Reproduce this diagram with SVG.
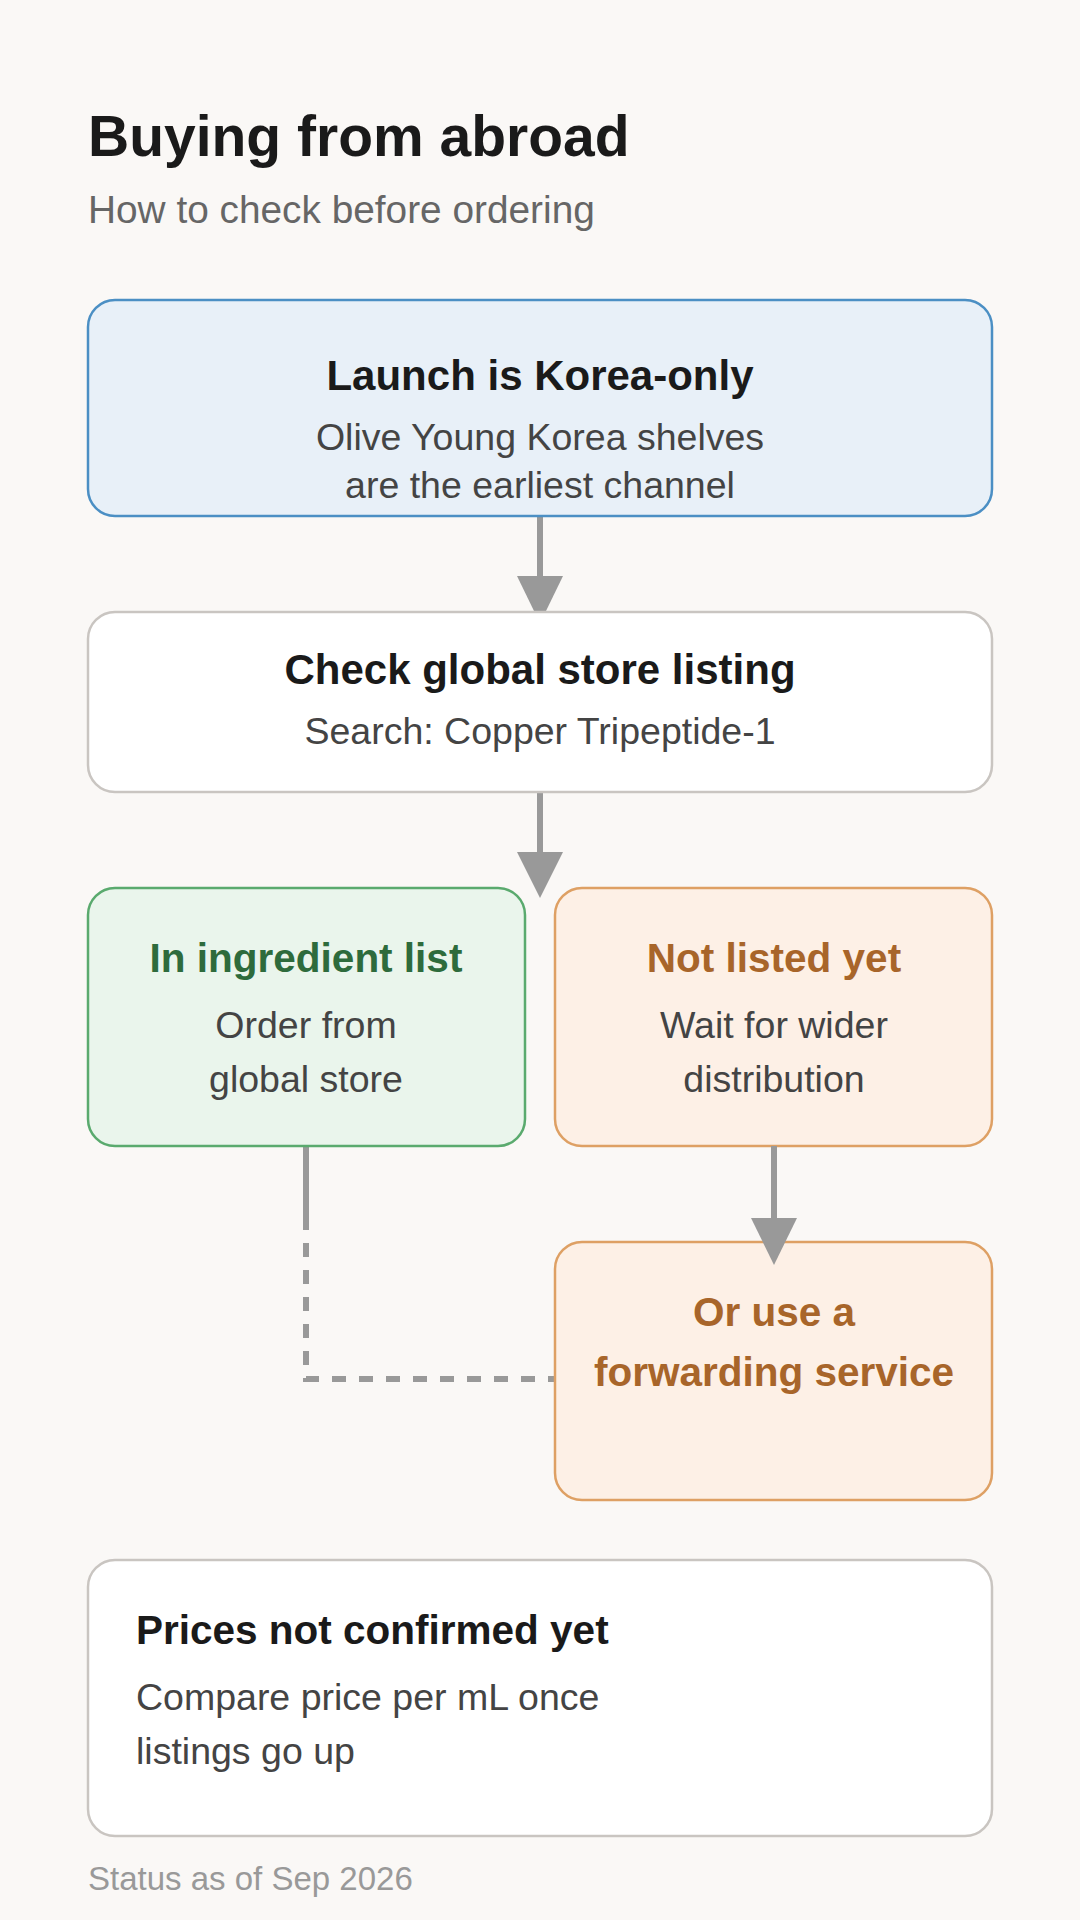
<svg xmlns="http://www.w3.org/2000/svg" width="1080" height="1920" viewBox="0 0 1080 1920">
  <style>
    text { font-family: "Liberation Sans", Arial, sans-serif; }
    .h1 { font-size: 57px; font-weight: bold; fill: #1a1a1a; }
    .sub { font-size: 38.8px; fill: #666666; }
    .t { font-size: 40.5px; font-weight: bold; fill: #1a1a1a; }
    .tw { font-size: 42px; }
    .b { font-size: 37.5px; fill: #444444; }
    .c { text-anchor: middle; }
    .tg { fill: #2e6b3c; }
    .to { fill: #a8652a; }
    .foot { font-size: 33px; fill: #999999; }
    .box { stroke-width: 2.5; }
    .blue { fill: #e8f0f8; stroke: #4b8fc4; }
    .white { fill: #ffffff; stroke: #c9c5c1; }
    .green { fill: #eaf5ec; stroke: #5aaa6e; }
    .orange { fill: #fdf0e6; stroke: #dea064; }
    .ln { stroke: #999999; stroke-width: 6; fill: none; }
    .dash { stroke-dasharray: 14 13; }
    .ah { fill: #999999; }
  </style>
  <rect x="0" y="0" width="1080" height="1920" fill="#faf8f6"/>

  <g id="header">
    <text class="h1" x="88" y="156">Buying from abroad</text>
    <text class="sub" x="88" y="223">How to check before ordering</text>
  </g>

  <g id="connectors">
    <line class="ln" x1="540" y1="516" x2="540" y2="580"/>
    <polygon class="ah" points="517,576 563,576 545.5,612 534.5,612"/>
    <line class="ln" x1="540" y1="792" x2="540" y2="856"/>
    <polygon class="ah" points="517,852 563,852 540,898"/>
    <line class="ln" x1="306" y1="1146" x2="306" y2="1230"/>
    <path class="ln dash" d="M306 1243 V1379 H555"/>
  </g>

  <g id="node-launch">
    <rect class="box blue" x="88" y="300" width="904" height="216" rx="27"/>
    <text class="t tw c" x="540" y="390">Launch is Korea-only</text>
    <text class="b c" x="540" y="450">Olive Young Korea shelves</text>
    <text class="b c" x="540" y="498">are the earliest channel</text>
  </g>

  <g id="node-check">
    <rect class="box white" x="88" y="612" width="904" height="180" rx="27"/>
    <text class="t tw c" x="540" y="684">Check global store listing</text>
    <text class="b c" x="540" y="744">Search: Copper Tripeptide-1</text>
  </g>

  <g id="node-listed">
    <rect class="box green" x="88" y="888" width="437" height="258" rx="27"/>
    <text class="t c tg" x="306" y="972">In ingredient list</text>
    <text class="b c" x="306" y="1038">Order from</text>
    <text class="b c" x="306" y="1092">global store</text>
  </g>

  <g id="node-notlisted">
    <rect class="box orange" x="555" y="888" width="437" height="258" rx="27"/>
    <text class="t c to" x="774" y="972">Not listed yet</text>
    <text class="b c" x="774" y="1038">Wait for wider</text>
    <text class="b c" x="774" y="1092">distribution</text>
  </g>

  <g id="node-forwarding">
    <rect class="box orange" x="555" y="1242" width="437" height="258" rx="27"/>
    <text class="t c to" x="774" y="1326">Or use a</text>
    <text class="t c to" x="774" y="1386">forwarding service</text>
  </g>

  <g id="connector-forward">
    <line class="ln" x1="774" y1="1146" x2="774" y2="1222"/>
    <polygon class="ah" points="751,1218 797,1218 774,1265"/>
  </g>

  <g id="node-prices">
    <rect class="box white" x="88" y="1560" width="904" height="276" rx="27"/>
    <text class="t" x="136" y="1644">Prices not confirmed yet</text>
    <text class="b" x="136" y="1710">Compare price per mL once</text>
    <text class="b" x="136" y="1764">listings go up</text>
  </g>

  <g id="footer">
    <text class="foot" x="88" y="1890">Status as of Sep 2026</text>
  </g>
</svg>
